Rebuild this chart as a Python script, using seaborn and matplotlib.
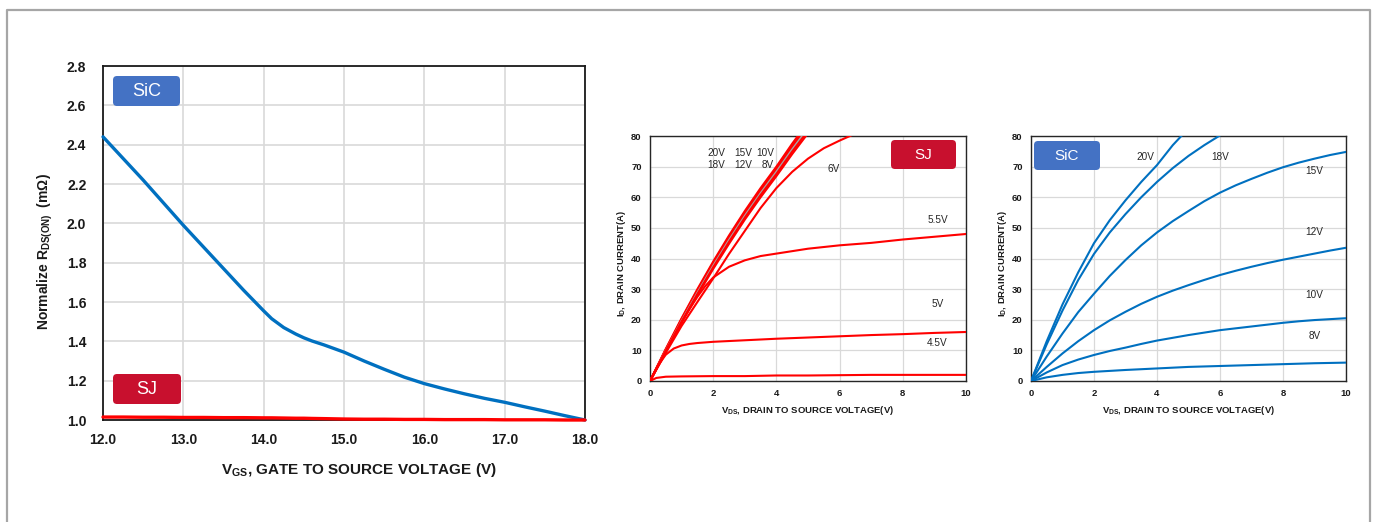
import numpy as np
import pandas as pd
import matplotlib
matplotlib.use("Agg")
import matplotlib.pyplot as plt
import seaborn as sns
from matplotlib.patches import FancyBboxPatch
from matplotlib.lines import Line2D
from matplotlib.transforms import IdentityTransform

# ---------------- data ----------------
# Left: normalized RDS(on) vs VGS
vgs = [12.0, 12.25, 12.5, 12.75, 13.0, 13.25, 13.5, 13.75, 14.0, 14.1, 14.25, 14.4, 14.5,
       14.6, 14.75, 15.0, 15.25, 15.5, 15.75, 16.0, 16.25, 16.5, 16.75, 17.0, 17.25, 17.5,
       17.75, 18.0]
sic_rds = [2.44, 2.33, 2.22, 2.105, 1.99, 1.88, 1.77, 1.66, 1.555, 1.515, 1.47, 1.437, 1.418,
           1.402, 1.382, 1.345, 1.30, 1.258, 1.218, 1.185, 1.158, 1.133, 1.11, 1.09, 1.067,
           1.045, 1.022, 1.0]
sj_rds = [1.015, 1.015, 1.014, 1.014, 1.013, 1.013, 1.012, 1.012, 1.011, 1.011, 1.010, 1.009,
          1.009, 1.008, 1.007, 1.005, 1.004, 1.004, 1.003, 1.003, 1.002, 1.002, 1.002, 1.001,
          1.001, 1.001, 1.0, 1.0]

# Middle: SJ output characteristics
sj_bundle_vds = [0, 0.5, 1, 1.5, 2, 2.5, 3, 3.5, 4, 4.5, 5]
sj_20v = [0, 10.5, 20.5, 30, 39, 47.5, 55.5, 63, 70, 77.5, 84.5]
sj_18v = [0, 10.3, 20.2, 29.6, 38.6, 47, 55, 62.5, 69.5, 77, 84]
sj_15v = [0, 10.1, 20, 29.3, 38.2, 46.6, 54.5, 62, 69, 76.4, 83.3]
sj_12v = [0, 9.9, 19.6, 28.8, 37.6, 46, 53.9, 61.3, 68.3, 75.6, 82.5]
sj_10v = [0, 9.7, 19.3, 28.4, 37.1, 45.4, 53.3, 60.7, 67.6, 74.9, 81.7]
sj_8v = [0, 9.5, 19, 28, 36.6, 44.8, 52.7, 60, 66.9, 74.1, 80.9]
sj_6v_vds = [0, 0.5, 1, 1.5, 2, 2.5, 3, 3.5, 4, 4.5, 5, 5.5, 6, 6.5]
sj_6v = [0, 9.2, 18, 25.8, 33.5, 41.5, 49, 56.5, 63, 68.3, 72.6, 76, 78.5, 80.8]
sj_55v_vds = [0, 0.5, 1, 1.25, 1.5, 1.75, 2, 2.5, 3, 3.5, 4, 5, 6, 7, 8, 9, 10]
sj_55v = [0, 9.8, 19.3, 23.5, 27.5, 31, 33.8, 37.3, 39.4, 40.8, 41.6, 43.2, 44.3, 45.1,
          46.2, 47.1, 48]
sj_5v_vds = [0, 0.25, 0.5, 0.75, 1, 1.25, 1.5, 2, 3, 4, 5, 6, 7, 8, 9, 10]
sj_5v = [0, 5.0, 8.6, 10.6, 11.6, 12.1, 12.4, 12.8, 13.3, 13.8, 14.2, 14.6, 15.0, 15.3, 15.7, 16]
sj_45v_vds = [0, 0.2, 0.5, 1, 2, 3, 4, 5, 6, 7, 8, 9, 10]
sj_45v = [0, 1.0, 1.4, 1.5, 1.6, 1.6, 1.8, 1.8, 1.9, 2.0, 2.0, 2.0, 2.0]

# Right: SiC output characteristics
sic_20v_vds = [0, 0.5, 1, 1.5, 2, 2.5, 3, 3.5, 4, 4.5, 5]
sic_20v = [0, 13, 25, 35.5, 45, 52.5, 59, 65, 70.5, 77, 82.5]
sic_18v_vds = [0, 0.5, 1, 1.5, 2, 2.5, 3, 3.5, 4, 4.5, 5, 5.5, 6, 6.5]
sic_18v = [0, 12, 23, 33, 41.5, 48.5, 54.5, 60, 65, 69.5, 73.5, 77, 80.2, 83]
sic_vds = [0, 0.5, 1, 1.5, 2, 2.5, 3, 3.5, 4, 4.5, 5, 5.5, 6, 6.5, 7, 7.5, 8, 8.5, 9, 9.5, 10]
sic_15v = [0, 8, 15.5, 22.5, 28.5, 34.3, 39.5, 44.3, 48.5, 52.2, 55.5, 58.7, 61.5, 63.9,
           66, 68, 69.8, 71.3, 72.6, 73.8, 74.8]
sic_12v = [0, 4.6, 9, 13, 16.6, 19.8, 22.6, 25.2, 27.5, 29.5, 31.3, 33.0, 34.6, 36.0,
           37.3, 38.5, 39.6, 40.6, 41.6, 42.6, 43.5]
sic_10v = [0, 2.8, 5.2, 7, 8.5, 9.8, 10.9, 12.1, 13.2, 14.1, 15, 15.8, 16.6, 17.2, 17.8,
           18.4, 19, 19.5, 19.9, 20.2, 20.5]
sic_8v = [0, 1.2, 2, 2.6, 3, 3.3, 3.6, 3.85, 4.1, 4.35, 4.6, 4.75, 4.9, 5.05, 5.2, 5.35,
          5.5, 5.65, 5.8, 5.9, 6.0]

sj_labels = ["20V", "15V", "10V", "18V", "12V", "8V", "6V", "5.5V", "5V", "4.5V"]
sic_labels = ["20V", "18V", "15V", "12V", "10V", "8V"]

# ---------------- style ----------------
sns.set_theme(style="white")
plt.rcParams["font.family"] = ["Liberation Sans", "DejaVu Sans"]
plt.rcParams["mathtext.fontset"] = "custom"
plt.rcParams["mathtext.rm"] = "Liberation Sans"
plt.rcParams["mathtext.bf"] = "Liberation Sans:bold"
plt.rcParams["mathtext.it"] = "Liberation Sans:italic"

W, H = 1377, 522
fig = plt.figure(figsize=(W / 100, H / 100), dpi=100)
fig.patch.set_facecolor("white")

BLUE = "#0070C0"
RED = "#FF0000"
BADGE_BLUE = "#4472C4"
BADGE_RED = "#C8102E"
GRID = "#D9D9D9"


def px_axes(x0, y0, x1, y1):
    return fig.add_axes([x0 / W, (H - y1) / H, (x1 - x0) / W, (y1 - y0) / H])


def long_df(pairs):
    rows = []
    for name, xs, ys in pairs:
        for a, b in zip(xs, ys):
            rows.append((name, a, b))
    return pd.DataFrame(rows, columns=["series", "x", "y"])


def badge(x0, y0, x1, y1, color, text, fs):
    p = FancyBboxPatch((x0, H - y1), x1 - x0, y1 - y0,
                       boxstyle="round,pad=0,rounding_size=4",
                       transform=IdentityTransform(), facecolor=color,
                       edgecolor="none", zorder=10)
    fig.patches.append(p)
    fig.text((x0 + x1) / 2 / W, (H - (y0 + y1) / 2) / H, text, color="white",
             fontsize=fs, ha="center", va="center", zorder=11)


# ---------------- left chart ----------------
ax1 = px_axes(103, 66, 585, 420)
df1 = long_df([("SiC", vgs, sic_rds), ("SJ", vgs, sj_rds)])
sns.lineplot(data=df1, x="x", y="y", hue="series",
             palette={"SiC": BLUE, "SJ": RED}, linewidth=2.4,
             legend=False, ax=ax1, clip_on=False, zorder=5)
ax1.set_xlim(12, 18)
ax1.set_ylim(1.0, 2.8)
ax1.set_xticks(np.arange(12, 18.01, 1.0))
ax1.set_yticks(np.arange(1.0, 2.801, 0.2))
ax1.set_xticklabels([f"{v:.1f}" for v in np.arange(12, 18.01, 1.0)])
ax1.set_yticklabels([f"{v:.1f}" for v in np.arange(1.0, 2.801, 0.2)])
ax1.grid(True, color=GRID, linewidth=1.2)
ax1.tick_params(length=0, labelsize=10, colors="#1a1a1a")
ax1.tick_params(axis="x", pad=9)
ax1.tick_params(axis="y", pad=12)
for lab in ax1.get_xticklabels() + ax1.get_yticklabels():
    lab.set_fontweight("bold")
for s in ax1.spines.values():
    s.set_color("#1a1a1a")
    s.set_linewidth(1.3)
ax1.set_xlabel(r"V$_{\mathbf{GS}}$, GATE TO SOURCE VOLTAGE (V)",
               fontsize=11, fontweight="bold", color="#1a1a1a")
ax1.xaxis.set_label_coords(0.53, -0.115)
ax1.set_ylabel(r"Normalize R$_{\mathbf{DS(ON)}}$  (mΩ)",
               fontsize=10, fontweight="bold", color="#1a1a1a")
ax1.yaxis.set_label_coords(-0.100, 0.477)


def small_axes(ax, ylabel):
    ax.set_xlim(0, 10)
    ax.set_ylim(0, 80)
    ax.set_xticks(np.arange(0, 11, 2))
    ax.set_yticks(np.arange(0, 81, 10))
    ax.grid(True, color=GRID, linewidth=0.9)
    ax.tick_params(length=0, labelsize=6.8, colors="#1a1a1a")
    ax.tick_params(axis="x", pad=6)
    ax.tick_params(axis="y", pad=6)
    for lab in ax.get_xticklabels() + ax.get_yticklabels():
        lab.set_fontweight("bold")
    for s in ax.spines.values():
        s.set_color("#262626")
        s.set_linewidth(1.0)
    ax.set_xlabel(r"V$_{\mathbf{DS}}$, DRAIN TO SOURCE VOLTAGE(V)",
                  fontsize=6.8, fontweight="bold", color="#1a1a1a")
    ax.xaxis.set_label_coords(0.5, -0.095)
    ax.set_ylabel(ylabel, fontsize=6.8, fontweight="bold", color="#1a1a1a")
    ax.yaxis.set_label_coords(-0.069, 0.48)


# ---------------- middle chart (SJ) ----------------
ax2 = px_axes(650, 136, 966, 381)
df2 = long_df([
    ("20V", sj_bundle_vds, sj_20v), ("18V", sj_bundle_vds, sj_18v),
    ("15V", sj_bundle_vds, sj_15v), ("12V", sj_bundle_vds, sj_12v),
    ("10V", sj_bundle_vds, sj_10v), ("8V", sj_bundle_vds, sj_8v),
    ("6V", sj_6v_vds, sj_6v), ("5.5V", sj_55v_vds, sj_55v),
    ("5V", sj_5v_vds, sj_5v), ("4.5V", sj_45v_vds, sj_45v),
])
pal2 = {k: RED for k in df2["series"].unique()}
pal2["12V"] = "#A6A6A6"
sns.lineplot(data=df2, x="x", y="y", hue="series", palette=pal2,
             linewidth=1.5, legend=False, ax=ax2, zorder=5)
small_axes(ax2, r"I$_{\mathbf{D}}$, DRAIN CURRENT(A)")
sj_label_pos = [(2.1, 74.6), (2.95, 74.6), (3.65, 74.6), (2.1, 70.6), (2.95, 70.6),
                (3.72, 70.6), (5.8, 69.3), (9.1, 52.7), (9.1, 25.3), (9.1, 12.5)]
for lab, (lx, ly) in zip(sj_labels, sj_label_pos):
    ax2.text(lx, ly, lab, fontsize=7.2, ha="center", va="center", color="#262626", zorder=6)

# ---------------- right chart (SiC) ----------------
ax3 = px_axes(1031, 136, 1346, 381)
df3 = long_df([
    ("20V", sic_20v_vds, sic_20v), ("18V", sic_18v_vds, sic_18v),
    ("15V", sic_vds, sic_15v), ("12V", sic_vds, sic_12v),
    ("10V", sic_vds, sic_10v), ("8V", sic_vds, sic_8v),
])
pal3 = {k: BLUE for k in df3["series"].unique()}
sns.lineplot(data=df3, x="x", y="y", hue="series", palette=pal3,
             linewidth=1.5, legend=False, ax=ax3, zorder=5)
small_axes(ax3, r"I$_{\mathbf{D}}$, DRAIN CURRENT(A)")
sic_label_pos = [(3.63, 73.0), (5.99, 73.0), (9.0, 68.7), (9.0, 48.6), (9.0, 28.2), (9.0, 14.7)]
for lab, (lx, ly) in zip(sic_labels, sic_label_pos):
    ax3.text(lx, ly, lab, fontsize=7.2, ha="center", va="center", color="#262626", zorder=6)

# ---------------- badges ----------------
badge(113, 76, 180, 106, BADGE_BLUE, "SiC", 13)
badge(113, 374, 181, 404, BADGE_RED, "SJ", 13)
badge(891, 140, 956, 169, BADGE_RED, "SJ", 11)
badge(1034, 141, 1100, 170, BADGE_BLUE, "SiC", 11)

# ---------------- outer frame ----------------
frame = Line2D([7, 7, 1370, 1370], [0, H - 10, H - 10, 0],
               transform=IdentityTransform(), color="#A6A6A6", linewidth=1.6)
fig.lines.append(frame)

fig.savefig("out.png", dpi=100, facecolor="white")
